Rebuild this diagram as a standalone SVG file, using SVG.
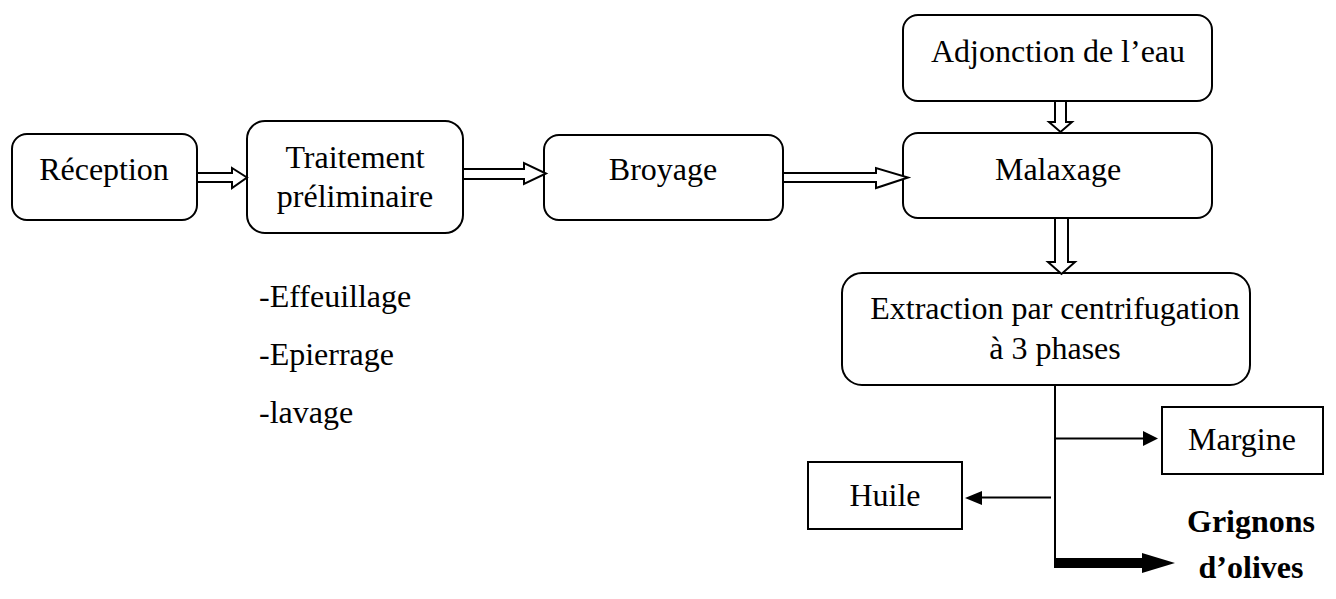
<svg xmlns="http://www.w3.org/2000/svg" width="1336" height="599" viewBox="0 0 1336 599">
<style>
.box{fill:#fff;stroke:#000;stroke-width:2}
text{font-family:'Liberation Serif',Tinos,'Times New Roman','DejaVu Serif',serif;font-size:32px;fill:#000}
.t{text-anchor:middle}
.b{font-weight:bold}
.ha{fill:#fff;stroke:#000;stroke-width:2;stroke-linejoin:miter}
.ln{stroke:#000;stroke-width:2;fill:none}
</style>
<rect width="1336" height="599" fill="#fff"/>
<g id="reception"><rect class="box" x="12" y="134" width="185" height="86" rx="15"/><text class="t" x="104" y="180">Réception</text></g>
<g id="traitement"><rect class="box" x="247" y="121" width="216" height="112" rx="18"/><text class="t" x="355" y="168">Traitement</text><text class="t" x="355" y="207">préliminaire</text></g>
<g id="broyage"><rect class="box" x="544" y="135" width="239" height="85" rx="15"/><text class="t" x="663" y="180">Broyage</text></g>
<g id="adjonction"><rect class="box" x="903" y="15" width="309" height="86" rx="15"/><text class="t" x="1058" y="62">Adjonction de l’eau</text></g>
<g id="malaxage"><rect class="box" x="903" y="133" width="309" height="85" rx="15"/><text class="t" x="1058" y="180">Malaxage</text></g>
<g id="extraction"><rect class="box" x="842" y="273" width="408" height="112" rx="20"/><text class="t" x="1055" y="319">Extraction par centrifugation</text><text class="t" x="1055" y="359">à 3 phases</text></g>
<g id="margine"><rect class="box" x="1162" y="407" width="161" height="67"/><text class="t" x="1242" y="450">Margine</text></g>
<g id="huile"><rect class="box" x="808" y="462" width="154" height="67"/><text class="t" x="885" y="506">Huile</text></g>
<g id="grignons"><text class="t b" x="1251" y="532">Grignons</text><text class="t b" x="1251" y="578">d’olives</text></g>
<g id="operations"><text x="259" y="307">-Effeuillage</text><text x="259" y="365">-Epierrage</text><text x="259" y="423">-lavage</text></g>
<g id="connectors">
<polygon class="ha" points="197,173 232,173 232,168 247,177.5 232,188 232,182 197,182"/>
<polygon class="ha" points="463,169 524,169 524,163 546,173.5 524,184 524,179 463,179"/>
<polygon class="ha" points="783,173 876,173 876,168 908,177.5 876,188 876,182 783,182"/>
<polygon class="ha" points="1055,101 1066,101 1066,122 1072,122 1060.5,132 1049,122 1055,122"/>
<polygon class="ha" points="1055,218 1068,218 1068,262 1075,262 1061.5,274 1048,262 1055,262"/>
<line class="ln" x1="1055" y1="385" x2="1055" y2="568"/>
<line class="ln" x1="1055" y1="438.5" x2="1144" y2="438.5"/>
<polygon points="1143,431 1158,438.5 1143,446" fill="#000"/>
<line class="ln" x1="1051" y1="497.5" x2="981" y2="497.5"/>
<polygon points="982,491 965,498 982,505" fill="#000"/>
<rect x="1054" y="558" width="90" height="10" fill="#000"/>
<polygon points="1142,553 1175,563 1142,573" fill="#000"/>
</g>
</svg>
